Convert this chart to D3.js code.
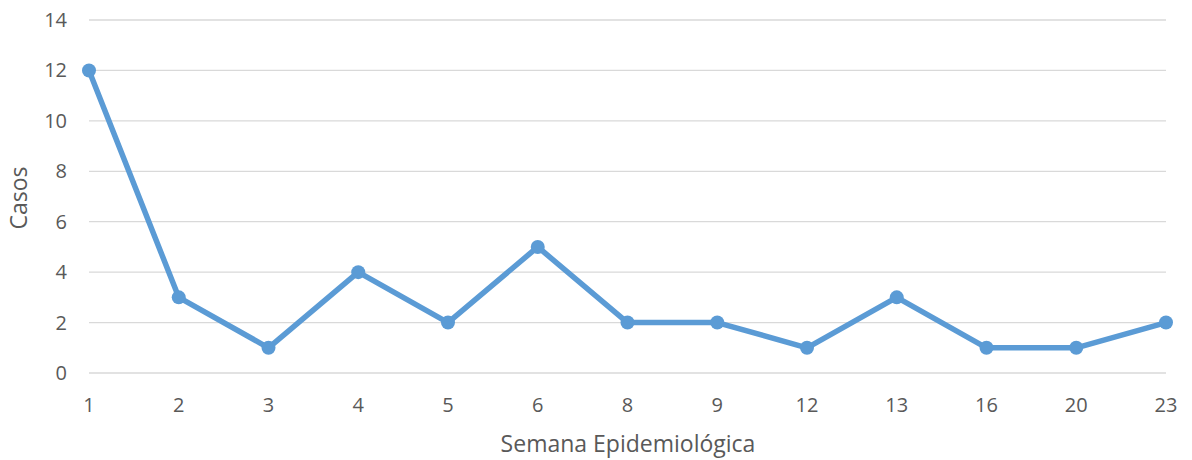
<!DOCTYPE html>
<html><head><meta charset="utf-8">
<script src="https://cdn.jsdelivr.net/npm/d3@7"></script>
<style>body{margin:0;background:#fff}text{font-family:"Open Sans","Noto Sans",sans-serif;fill:#595959}</style>
</head><body><svg id="c" width="1192" height="460"></svg>
<script>
const weeks = ["1","2","3","4","5","6","8","9","12","13","16","20","23"];
const cases = [12,3,1,4,2,5,2,2,1,3,1,1,2];
const yTicks = [0,2,4,6,8,10,12,14];
const xTitle = "Semana Epidemiológica";
const yTitle = "Casos";

(function(){
const svg = d3.select("#c");
const pL = 89, pR = 1166, pT = 20, pB = 373;
const x = d3.scalePoint().domain(weeks).range([pL, pR]);
const y = d3.scaleLinear().domain([0,14]).range([pB, pT]);

svg.append("g").selectAll("line").data(yTicks).join("line")
  .attr("x1", pL).attr("x2", pR)
  .attr("y1", d=>y(d)).attr("y2", d=>y(d))
  .attr("stroke", "#d9d9d9").attr("stroke-width", 1.3);

svg.append("g").selectAll("text").data(yTicks).join("text")
  .attr("x", 67).attr("y", d=>y(d)).attr("dy","0.35em")
  .attr("text-anchor","end").attr("font-size",20).text(d=>d);

svg.append("g").selectAll("text").data(weeks).join("text")
  .attr("x", d=>x(d)).attr("y", 405).attr("dy","0.35em")
  .attr("text-anchor","middle").attr("font-size",20).text(d=>d);

const data = weeks.map((w,i)=>({w, v: cases[i]}));
svg.append("path").datum(data)
  .attr("fill","none").attr("stroke","#5b9bd5").attr("stroke-width",5.5)
  .attr("stroke-linejoin","round")
  .attr("d", d3.line().x(d=>x(d.w)).y(d=>y(d.v)));
svg.append("g").selectAll("circle").data(data).join("circle")
  .attr("cx", d=>x(d.w)).attr("cy", d=>y(d.v)).attr("r", 7)
  .attr("fill","#5b9bd5");

svg.append("text").attr("x", 628).attr("y", 444).attr("dy","0.35em")
  .attr("text-anchor","middle").attr("font-size",23).text(xTitle);
svg.append("text").attr("transform","translate(19,198) rotate(-90)").attr("dy","0.35em")
  .attr("text-anchor","middle").attr("font-size",23).text(yTitle);
})();
</script></body></html>
